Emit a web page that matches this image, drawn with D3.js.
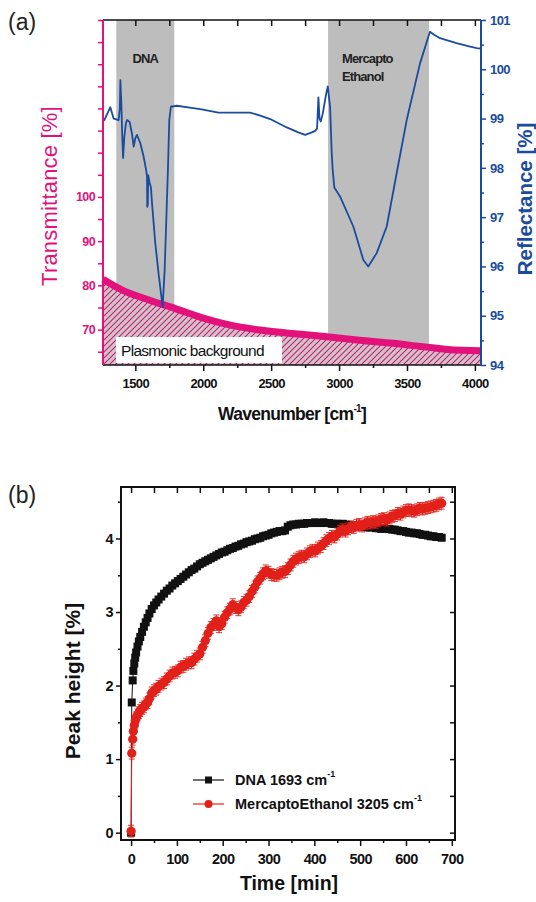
<!DOCTYPE html>
<html>
<head>
<meta charset="utf-8">
<script src="https://cdn.jsdelivr.net/npm/d3@7"></script>
<style>
  html, body { margin: 0; padding: 0; background: #fff; }
  svg { display: block; font-family: "Liberation Sans", Arial, sans-serif; }
</style>
</head>
<body>
<svg id="chart" width="536" height="902"></svg>
<script>
// ---------- Panel (a) data ----------
const wnTrans = [1262, 1400, 1600, 1800, 2000, 2200, 2420, 2700, 2910, 3150, 3400, 3600, 3720, 3800, 4045];
const transmittance = [81.4, 79.0, 76.7, 74.7, 72.6, 71.0, 69.9, 69.0, 68.4, 67.6, 66.9, 66.2, 65.8, 65.5, 65.2];

const wnRefl = [1262, 1272, 1316, 1340, 1377, 1386, 1390, 1394, 1397, 1403, 1410, 1419, 1430, 1439, 1458, 1475, 1488, 1500, 1512, 1537,
  1561, 1580, 1586, 1588, 1592, 1595, 1605, 1615, 1623, 1647, 1671, 1701, 1716, 1728, 1740, 1750, 1762, 1806, 1900, 1978,
  2112, 2346, 2420, 2493, 2615, 2700, 2750, 2800, 2824, 2838, 2848, 2856, 2865, 2880, 2905, 2917, 2934, 2946, 2952, 2965,
  3007, 3105, 3179, 3215, 3277, 3351, 3424, 3498, 3596, 3669, 3700, 3743, 3865, 3950, 4013, 4045];
const reflectance = [98.95, 98.97, 99.23, 99.0, 98.97, 99.2, 99.78, 99.5, 99.32, 98.7, 98.2, 98.63, 98.9, 98.97, 98.93, 98.7, 98.43, 98.6, 98.67, 98.5,
  98.23, 97.95, 97.82, 97.21, 97.25, 97.85, 97.7, 97.6, 97.28, 96.47, 95.86, 95.18, 95.93, 96.94, 97.96, 98.97, 99.24, 99.26, 99.22, 99.19,
  99.12, 99.12, 99.06, 98.99, 98.82, 98.72, 98.67, 98.72, 98.75, 98.8, 99.43, 99.0, 98.94, 99.1, 99.5, 99.65, 99.24, 98.3, 98.0, 97.6,
  97.42, 96.81, 96.13, 96.0, 96.27, 96.81, 97.89, 98.97, 100.12, 100.76, 100.7, 100.63, 100.53, 100.47, 100.43, 100.42];

const bands = [
  { name: ["DNA"], from: 1360, to: 1787 },
  { name: ["Mercapto", "Ethanol"], from: 2919, to: 3662 }
];
const xTicksA = [1500, 2000, 2500, 3000, 3500, 4000];
const xMinorA = [1750, 2250, 2750, 3250, 3750];
const xTopA = [1500, 1750, 2000, 2250, 2500, 2750, 3000, 3250, 3500, 3750, 4000];
const transTicks = [65, 70, 75, 80, 85, 90, 95, 100, 105, 110, 115, 120, 125, 130, 135, 140];
const transLabels = [70, 80, 90, 100];
const reflTicks = [94, 95, 96, 97, 98, 99, 100, 101];
const reflMinor = [94.5, 95.5, 96.5, 97.5, 98.5, 99.5, 100.5];

// ---------- Panel (b) data ----------
const timeMin = [0, 1.5, 3.5, 5, 7, 9, 11, 14, 17, 20,
  24, 28, 32, 36, 40, 45, 50, 55, 60, 66,
  72, 78, 84, 90, 96, 102, 108, 114, 120, 126,
  132, 138, 144, 150, 156, 162, 168, 174, 180, 186,
  192, 198, 204, 210, 216, 222, 228, 234, 240, 246,
  252, 258, 264, 270, 276, 282, 288, 294, 300, 306,
  312, 318, 324, 330, 336, 342, 348, 354, 360, 366,
  372, 378, 384, 390, 396, 402, 408, 414, 420, 426,
  432, 438, 444, 450, 456, 462, 468, 474, 480, 486,
  492, 498, 504, 510, 516, 522, 528, 534, 540, 546,
  552, 558, 564, 570, 576, 582, 588, 594, 600, 606,
  612, 618, 624, 630, 636, 642, 648, 654, 660, 666,
  672, 678];
const dnaPeak = [0, 1.77, 2.07, 2.2, 2.3, 2.38, 2.45, 2.53, 2.6, 2.66,
  2.73, 2.8, 2.86, 2.92, 2.98, 3.04, 3.09, 3.13, 3.17, 3.21,
  3.25, 3.29, 3.32, 3.36, 3.39, 3.42, 3.45, 3.48, 3.51, 3.54,
  3.57, 3.59, 3.62, 3.65, 3.67, 3.69, 3.71, 3.73, 3.75, 3.77,
  3.79, 3.81, 3.82, 3.84, 3.86, 3.87, 3.89, 3.9, 3.92, 3.93,
  3.95, 3.96, 3.97, 3.99, 4.0, 4.01, 4.03, 4.04, 4.05, 4.07,
  4.08, 4.09, 4.1, 4.1, 4.11, 4.16, 4.18, 4.19, 4.19, 4.2,
  4.2, 4.2, 4.21, 4.21, 4.21, 4.22, 4.21, 4.21, 4.22, 4.21,
  4.21, 4.2, 4.2, 4.2, 4.19, 4.2, 4.19, 4.18, 4.18, 4.17,
  4.17, 4.17, 4.16, 4.16, 4.15, 4.15, 4.16, 4.14, 4.14, 4.13,
  4.14, 4.13, 4.13, 4.12, 4.12, 4.11, 4.1, 4.1, 4.09, 4.08,
  4.08, 4.07, 4.07, 4.06, 4.05, 4.05, 4.04, 4.03, 4.03, 4.02,
  4.02, 4.01];
const mercPeak = [0.02, 1.08, 1.27, 1.38, 1.46, 1.52, 1.56, 1.6, 1.63, 1.66,
  1.69, 1.71, 1.75, 1.77, 1.82, 1.9, 1.93, 1.95, 1.99, 2.02,
  2.04, 2.09, 2.13, 2.17, 2.18, 2.2, 2.25, 2.26, 2.29, 2.31,
  2.31, 2.36, 2.4, 2.43, 2.52, 2.61, 2.71, 2.79, 2.83, 2.88,
  2.8, 2.84, 2.93, 2.99, 3.04, 3.1, 3.06, 3.03, 3.07, 3.13,
  3.16, 3.21, 3.28, 3.34, 3.41, 3.46, 3.52, 3.56, 3.54, 3.51,
  3.5, 3.5, 3.52, 3.54, 3.55, 3.59, 3.64, 3.69, 3.72, 3.74,
  3.76, 3.75, 3.79, 3.82, 3.84, 3.83, 3.87, 3.89, 3.93, 3.97,
  4.0, 4.03, 4.02, 4.06, 4.1, 4.12, 4.1, 4.13, 4.16, 4.15,
  4.18, 4.19, 4.17, 4.2, 4.22, 4.21, 4.23, 4.22, 4.24, 4.26,
  4.27, 4.25, 4.28, 4.3, 4.31, 4.34, 4.33, 4.36, 4.38, 4.39,
  4.38, 4.37, 4.39, 4.41, 4.4, 4.41, 4.42, 4.43, 4.44, 4.45,
  4.47, 4.48];
const dnaErr = 0.04;
const mercErr = 0.08;
const xTicksB = [0, 100, 200, 300, 400, 500, 600, 700];
const xMinorB = [50, 150, 250, 350, 450, 550, 650];
const yTicksB = [0, 1, 2, 3, 4];
const yMinorB = [0.5, 1.5, 2.5, 3.5, 4.5];
const legendItems = [
  { label: "DNA 1693 cm", shape: "square" },
  { label: "MercaptoEthanol 3205 cm", shape: "circle" }
];

// ---------- styling ----------
const PINK = "#e2127a";
const BLUE = "#1a4c9e";
const GREY = "#bdbdbd";
const RED = "#e2201a";
const FONT = "'Liberation Sans', Arial, sans-serif";

const svg = d3.select("#chart");
const defs = svg.append("defs");
const pat = defs.append("pattern").attr("id", "hatch").attr("patternUnits", "userSpaceOnUse")
  .attr("width", 6).attr("height", 6);
pat.append("rect").attr("width", 6).attr("height", 6).attr("fill", "#c8c8c8");
pat.append("path").attr("d", "M-1,7 L7,-1 M-4,4 L4,-4 M2,10 L10,2").attr("stroke", PINK).attr("stroke-width", 1.1);

// ================= Panel (a) =================
const A = { l: 103, r: 481, t: 20, b: 365 };
const xA = d3.scaleLinear().domain([1262, 4045]).range([A.l, A.r]);
const yT = d3.scaleLinear().domain([62, 140]).range([A.b, A.t]);
const yR = d3.scaleLinear().domain([94, 101]).range([A.b, A.t]);

const gA = svg.append("g");
gA.selectAll("rect.band").data(bands).join("rect").attr("class", "band")
  .attr("x", d => xA(d.from)).attr("width", d => xA(d.to) - xA(d.from))
  .attr("y", A.t).attr("height", A.b - A.t).attr("fill", GREY);

const transPts = wnTrans.map((w, i) => [w, transmittance[i]]);
gA.append("path").datum(transPts)
  .attr("d", d3.area().x(d => xA(d[0])).y0(yT(62)).y1(d => yT(d[1])).curve(d3.curveMonotoneX))
  .attr("fill", "url(#hatch)");

gA.append("rect").attr("x", 116).attr("y", 337).attr("width", 166).attr("height", 26).attr("fill", "#fff");
gA.append("text").attr("x", 121).attr("y", 356).attr("font-size", 15.5).attr("letter-spacing", -0.7)
  .attr("fill", "#111").text("Plasmonic background");

gA.append("path").datum(transPts)
  .attr("d", d3.line().x(d => xA(d[0])).y(d => yT(d[1])).curve(d3.curveMonotoneX))
  .attr("fill", "none").attr("stroke", PINK).attr("stroke-width", 7);

const reflPts = wnRefl.map((w, i) => [w, reflectance[i]]);
gA.append("path").datum(reflPts)
  .attr("d", d3.line().x(d => xA(d[0])).y(d => yR(d[1])))
  .attr("fill", "none").attr("stroke", BLUE).attr("stroke-width", 1.8).attr("stroke-linejoin", "round");

bands.forEach(b => {
  b.name.forEach((n, i) => {
    gA.append("text").attr("x", b.name.length === 1 ? (xA(b.from) + xA(b.to)) / 2 : xA(b.from) + 14)
      .attr("y", 63 + i * 18).attr("text-anchor", b.name.length === 1 ? "middle" : "start")
      .attr("font-size", 13).attr("letter-spacing", -0.9).style("font-weight", "bold").attr("fill", "#222").text(n);
  });
});

function styleAxis(g, color, fs) {
  g.attr("font-family", null).attr("font-size", null);
  g.select(".domain").remove();
  g.selectAll("line").attr("stroke", color).attr("stroke-width", 1.5);
  g.selectAll("text").attr("fill", color)
    .style("font-size", fs + "px").style("font-weight", "bold").style("font-family", FONT)
    .style("letter-spacing", "-0.6px");
}
const intFmt = d3.format("d");

let g = gA.append("g").attr("transform", `translate(0,${A.b})`)
  .call(d3.axisBottom(xA).tickValues(xTicksA).tickSize(6).tickPadding(8).tickFormat(intFmt));
styleAxis(g, "#111", 13);
g = gA.append("g").attr("transform", `translate(0,${A.b})`)
  .call(d3.axisBottom(xA).tickValues(xMinorA).tickSize(3).tickFormat(""));
styleAxis(g, "#111", 13);
g = gA.append("g").attr("transform", `translate(0,${A.t})`)
  .call(d3.axisTop(xA).tickValues(xTopA).tickSize(-6).tickFormat(""));
styleAxis(g, "#111", 13);
g = gA.append("g").attr("transform", `translate(${A.l},0)`)
  .call(d3.axisLeft(yT).tickValues(transTicks).tickSize(5).tickPadding(3)
    .tickFormat(d => transLabels.includes(d) ? intFmt(d) : ""));
styleAxis(g, PINK, 12.5);
g = gA.append("g").attr("transform", `translate(${A.r},0)`)
  .call(d3.axisRight(yR).tickValues(reflTicks).tickSize(5).tickPadding(4).tickFormat(intFmt));
styleAxis(g, BLUE, 13);
g = gA.append("g").attr("transform", `translate(${A.r},0)`)
  .call(d3.axisRight(yR).tickValues(reflMinor).tickSize(3).tickFormat(""));
styleAxis(g, BLUE, 13);

gA.append("line").attr("x1", A.l).attr("x2", A.r).attr("y1", A.t).attr("y2", A.t).attr("stroke", "#111").attr("stroke-width", 1.6);
gA.append("line").attr("x1", A.l).attr("x2", A.r).attr("y1", A.b).attr("y2", A.b).attr("stroke", "#111").attr("stroke-width", 1.6);
gA.append("line").attr("x1", A.l).attr("x2", A.l).attr("y1", A.t).attr("y2", A.b).attr("stroke", PINK).attr("stroke-width", 2);
gA.append("line").attr("x1", A.r).attr("x2", A.r).attr("y1", A.t).attr("y2", A.b).attr("stroke", BLUE).attr("stroke-width", 2);

gA.append("text").attr("transform", "translate(49,196) rotate(-90)").attr("text-anchor", "middle")
  .attr("dominant-baseline", "central").attr("font-size", 22).attr("fill", PINK).attr("letter-spacing", 0.2)
  .text("Transmittance  [%]");
gA.append("text").attr("transform", "translate(524,199) rotate(-90)").attr("text-anchor", "middle")
  .attr("dominant-baseline", "central").attr("font-size", 20.5).attr("font-weight", "bold").attr("fill", BLUE)
  .text("Reflectance [%]");
const wt = gA.append("text").attr("x", 292).attr("y", 420).attr("text-anchor", "middle")
  .attr("font-size", 17.5).attr("font-weight", "bold").attr("fill", "#111").attr("letter-spacing", -0.7);
wt.append("tspan").text("Wavenumber [cm");
wt.append("tspan").attr("dy", -8).attr("font-size", 10).text("-1");
wt.append("tspan").attr("dy", 8).text("]");
svg.append("text").attr("x", 8).attr("y", 30).attr("font-size", 23).attr("fill", "#222").text("(a)");

// ================= Panel (b) =================
const B = { l: 121, r: 455, t: 487, b: 840 };
const xB = d3.scaleLinear().domain([-22, 707]).range([B.l, B.r]);
const yB = d3.scaleLinear().domain([-0.1, 4.7]).range([B.b, B.t]);
const gB = svg.append("g");

g = gB.append("g").attr("transform", `translate(0,${B.b})`)
  .call(d3.axisBottom(xB).tickValues(xTicksB).tickSize(6).tickPadding(8).tickFormat(intFmt));
styleAxis(g, "#111", 14.5);
g = gB.append("g").attr("transform", `translate(0,${B.b})`)
  .call(d3.axisBottom(xB).tickValues(xMinorB).tickSize(3).tickFormat(""));
styleAxis(g, "#111", 14.5);
g = gB.append("g").attr("transform", `translate(0,${B.t})`)
  .call(d3.axisTop(xB).tickValues(xTicksB.concat(xMinorB)).tickSize(-6).tickFormat(""));
styleAxis(g, "#111", 14.5);
g = gB.append("g").attr("transform", `translate(${B.l},0)`)
  .call(d3.axisLeft(yB).tickValues(yTicksB).tickSize(5).tickPadding(3).tickFormat(intFmt));
styleAxis(g, "#111", 14.5);
g = gB.append("g").attr("transform", `translate(${B.l},0)`)
  .call(d3.axisLeft(yB).tickValues(yMinorB).tickSize(3).tickFormat(""));
styleAxis(g, "#111", 14.5);
g = gB.append("g").attr("transform", `translate(${B.r},0)`)
  .call(d3.axisRight(yB).tickValues(yTicksB.concat(yMinorB)).tickSize(-5).tickFormat(""));
styleAxis(g, "#111", 14.5);
gB.append("rect").attr("x", B.l).attr("y", B.t).attr("width", B.r - B.l).attr("height", B.b - B.t)
  .attr("fill", "none").attr("stroke", "#111").attr("stroke-width", 2);

const dnaPts = timeMin.map((t, i) => [t, dnaPeak[i]]);
const mercPts = timeMin.map((t, i) => [t, mercPeak[i]]);
const lineB = d3.line().x(d => xB(d[0])).y(d => yB(d[1]));

function drawSeries(pts, color, err, shape) {
  const s = gB.append("g");
  s.append("path").datum(pts).attr("d", lineB).attr("fill", "none").attr("stroke", color).attr("stroke-width", 1);
  s.selectAll("path.err").data(pts).join("path").attr("class", "err")
    .attr("d", d => {
      const x = xB(d[0]), y1 = yB(d[1] - err), y2 = yB(d[1] + err);
      return `M${x},${y1}L${x},${y2}M${x - 3},${y1}L${x + 3},${y1}M${x - 3},${y2}L${x + 3},${y2}`;
    })
    .attr("stroke", color).attr("stroke-width", 0.9).attr("fill", "none");
  if (shape === "square") {
    s.selectAll("rect.m").data(pts).join("rect").attr("class", "m")
      .attr("x", d => xB(d[0]) - 4).attr("y", d => yB(d[1]) - 4).attr("width", 8).attr("height", 8)
      .attr("fill", color);
  } else {
    s.selectAll("circle.m").data(pts).join("circle").attr("class", "m")
      .attr("cx", d => xB(d[0])).attr("cy", d => yB(d[1])).attr("r", 4.6).attr("fill", color);
  }
}
drawSeries(dnaPts, "#111", dnaErr, "square");
drawSeries(mercPts, RED, mercErr, "circle");

legendItems.forEach((it, i) => {
  const y = 780 + i * 24;
  const color = it.shape === "square" ? "#111" : RED;
  gB.append("line").attr("x1", 193).attr("x2", 224).attr("y1", y).attr("y2", y).attr("stroke", color).attr("stroke-width", 1.2);
  if (it.shape === "square") gB.append("rect").attr("x", 205).attr("y", y - 3.5).attr("width", 7).attr("height", 7).attr("fill", color);
  else gB.append("circle").attr("cx", 208.5).attr("cy", y).attr("r", 4).attr("fill", color);
  const t = gB.append("text").attr("x", 235).attr("y", y + 5).attr("font-size", 14.5).attr("font-weight", "bold").attr("fill", "#111");
  t.append("tspan").text(it.label);
  t.append("tspan").attr("dy", -8).attr("font-size", 9).text("-1");
});

gB.append("text").attr("transform", "translate(72,681) rotate(-90)").attr("text-anchor", "middle")
  .attr("dominant-baseline", "central").attr("font-size", 21).attr("font-weight", "bold").attr("fill", "#111")
  .text("Peak height [%]");
gB.append("text").attr("x", 289).attr("y", 890).attr("text-anchor", "middle")
  .attr("font-size", 19.5).attr("font-weight", "bold").attr("fill", "#111").text("Time [min]");
svg.append("text").attr("x", 8).attr("y", 503).attr("font-size", 23).attr("fill", "#222").text("(b)");
</script>
</body>
</html>
